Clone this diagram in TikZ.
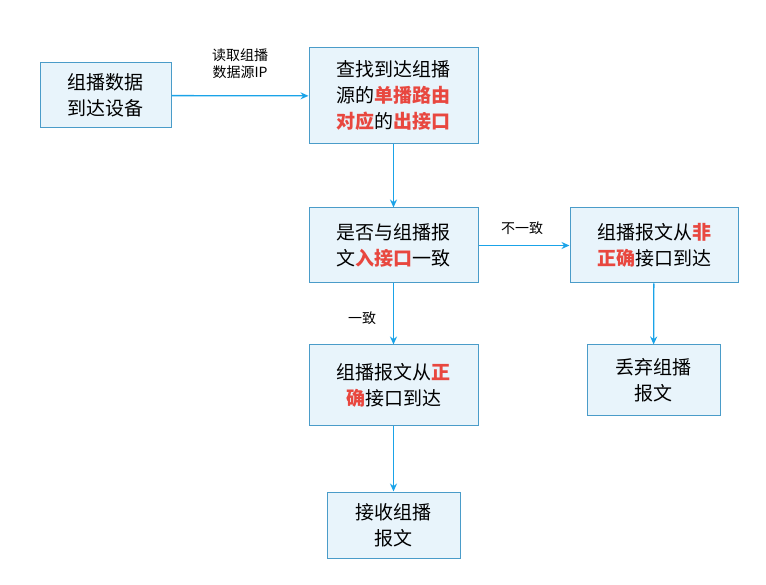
\documentclass[tikz,border=0pt]{standalone}
\usepackage{fontspec}
\setmainfont{Noto Sans CJK SC}
\usetikzlibrary{arrows.meta}
\definecolor{bfill}{HTML}{E8F4FB}
\definecolor{bdraw}{HTML}{4A9CC9}
\definecolor{arr}{HTML}{1AA3E8}
\definecolor{hl}{HTML}{E8473F}
\newcommand{\hlt}[1]{\textcolor{hl}{\textbf{#1}}}
\begin{document}
\begin{tikzpicture}[x=1pt,y=-1pt,
  box/.style={draw=bdraw,fill=bfill,line width=1pt,align=center,font=\fontsize{19}{26}\selectfont,inner sep=0pt},
  lab/.style={font=\fontsize{14}{17}\selectfont,align=center},
  ar/.style={draw=arr,line width=1.3pt,-{Stealth[length=8pt,width=7pt]}}]
\path[use as bounding box] (0,0) rectangle (766,585);
\node[box,minimum width=131,minimum height=65] (a) at (105.5,95.5) {组播数据\\到达设备};
\node[box,minimum width=169,minimum height=96] (b) at (393.5,96) {查找到达组播\\源的\hlt{单播路由}\\\hlt{对应}的\hlt{出接口}};
\node[box,minimum width=169,minimum height=75] (c) at (393.5,245.5) {是否与组播报\\文\hlt{入接口}一致};
\node[box,minimum width=168,minimum height=75] (d) at (654,245.5) {组播报文从\hlt{非}\\\hlt{正确}接口到达};
\node[box,minimum width=169,minimum height=80] (e) at (393.5,385) {组播报文从\hlt{正}\\\hlt{确}接口到达};
\node[box,minimum width=133,minimum height=70] (f) at (653.5,380) {丢弃组播\\报文};
\node[box,minimum width=133,minimum height=66] (g) at (393.5,525) {接收组播\\报文};
\draw[ar] (a) -- (b);
\draw[ar] (b) -- (c);
\draw[ar] (c) -- (d);
\draw[ar] (c) -- (e);
\draw[ar] (d) -- (f);
\draw[ar] (e) -- (g);
\node[lab] (l1) at (240,64) {读取组播\\数据源IP};
\node[lab] (l2) at (522,228) {不一致};
\node[lab] (l3) at (362,318) {一致};
\end{tikzpicture}
\end{document}
